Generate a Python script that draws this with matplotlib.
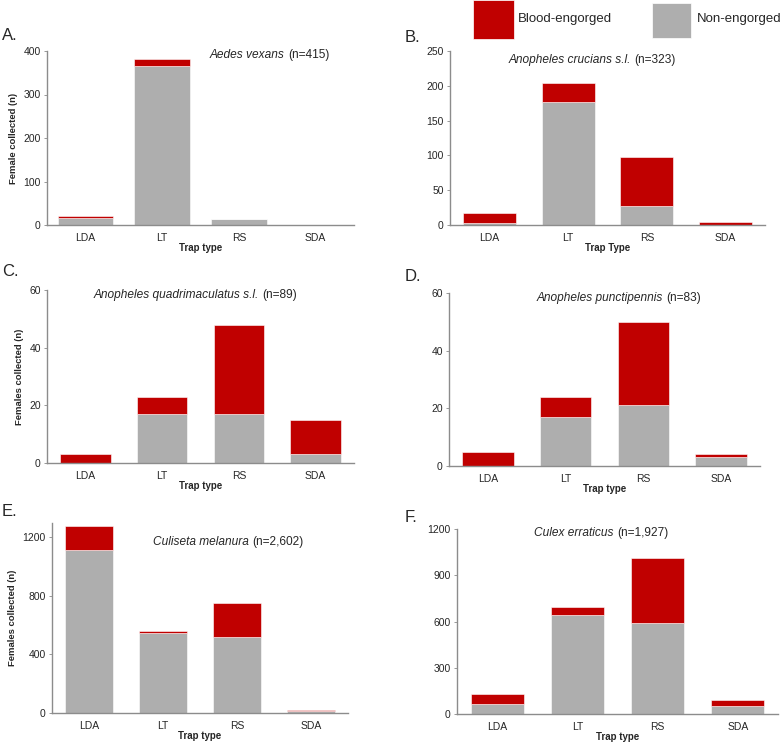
import matplotlib.pyplot as plt
from matplotlib.patches import Rectangle

plt.rcParams['font.family'] = ['Liberation Sans', 'DejaVu Sans']

traps = ['LDA', 'LT', 'RS', 'SDA']

# niezassane (szare) i zassane krwią (czerwone) samice
a_non = [17, 366, 13, 0]
a_blood = [4, 15, 0, 0]
b_non = [3, 177, 28, 0]
b_blood = [14, 27, 70, 4]
c_non = [0, 17, 17, 3]
c_blood = [3, 6, 31, 12]
d_non = [0, 17, 21, 3]
d_blood = [5, 7, 29, 1]
e_non = [1110, 545, 520, 17]
e_blood = [162, 17, 228, 3]
f_non = [68, 640, 588, 50]
f_blood = [61, 55, 422, 43]

red = '#C00000'
gray = '#AEAEAE'
txt = '#262626'

W, H = 783, 743
fig = plt.figure(figsize=(W / 100, H / 100), dpi=100)
renderer = fig.canvas.get_renderer()


def px_axes(left, top, right, bottom):
    return fig.add_axes([left / W, 1 - bottom / H, (right - left) / W, (bottom - top) / H])


panels = [
    # litera, gatunek, n, dane, ylim, ticki, ylabel, xlabel, pozycja osi, lewy brzeg tytułu, litera
    ('A.', 'Aedes vexans', '(n=415)', a_non, a_blood, 400, [0, 100, 200, 300, 400],
     'Female collected (n)', 'Trap type', (47, 51, 354, 225), (210, 55), (2, 35), 0.72),
    ('B.', 'Anopheles crucians s.l.', '(n=323)', b_non, b_blood, 250, [0, 50, 100, 150, 200, 250],
     None, 'Trap Type', (450, 51, 765, 225), (509, 60), (405, 37), 0.67),
    ('C.', 'Anopheles quadrimaculatus s.l.', '(n=89)', c_non, c_blood, 60, [0, 20, 40, 60],
     'Females collected (n)', 'Trap type', (47, 290, 354, 463), (94, 295), (2, 272), 0.66),
    ('D.', 'Anopheles punctipennis', '(n=83)', d_non, d_blood, 60, [0, 20, 40, 60],
     None, 'Trap type', (449, 293, 760, 466), (537, 298), (405, 277), 0.66),
    ('E.', 'Culiseta melanura', '(n=2,602)', e_non, e_blood, 1295, [0, 400, 800, 1200],
     'Females collected (n)', 'Trap type', (52, 523, 348, 713), (153, 542), (2, 512), 0.66),
    ('F.', 'Culex erraticus', '(n=1,927)', f_non, f_blood, 1200, [0, 300, 600, 900, 1200],
     None, 'Trap type', (457, 529, 778, 714), (534, 533), (405, 517), 0.66),
]

for letter, species, n, non, blood, ymax, yticks, ylab, xlab, box, tpos, lpos, bw in panels:
    ax = px_axes(*box)
    x = range(len(traps))
    ax.bar(x, non, width=bw, color=gray, edgecolor='white', linewidth=0.4)
    ax.bar(x, blood, width=bw, bottom=non, color=red, edgecolor='white', linewidth=0.4)
    ax.set_xlim(-0.5, 3.5)
    ax.set_ylim(0, ymax)
    ax.set_yticks(yticks)
    ax.set_xticks(list(x))
    ax.set_xticklabels(traps)
    ax.tick_params(axis='x', length=0, pad=6, labelsize=7.5, labelcolor=txt)
    ax.tick_params(axis='y', length=2.5, width=0.6, color='#888888', pad=2, labelsize=7.5, labelcolor=txt)
    for s in ['top', 'right']:
        ax.spines[s].set_visible(False)
    for s in ['left', 'bottom']:
        ax.spines[s].set_color('#8C8C8C')
        ax.spines[s].set_linewidth(1.0)
    if ylab:
        ax.set_ylabel(ylab, fontsize=6.8, fontweight='bold', color=txt, labelpad=4)
    ax.set_xlabel(xlab, fontsize=7, fontweight='bold', color=txt, labelpad=0)
    t1 = fig.text(tpos[0] / W, 1 - tpos[1] / H, species + ' ', style='italic', fontsize=8.6,
                  color=txt, ha='left', va='center')
    right = t1.get_window_extent(renderer).x1
    fig.text(right / W, 1 - tpos[1] / H, n, fontsize=8.6, color=txt, ha='left', va='center')
    fig.text(lpos[0] / W, 1 - lpos[1] / H, letter, fontsize=12, color=txt, ha='left', va='center')

# legenda na górze
fig.patches.append(Rectangle((473 / W, 1 - 39 / H), 41 / W, 39 / H, transform=fig.transFigure,
                             facecolor=red, edgecolor='white', linewidth=0.5))
fig.patches.append(Rectangle((652 / W, 1 - 38 / H), 39 / W, 35 / H, transform=fig.transFigure,
                             facecolor=gray, edgecolor='white', linewidth=0.5))
fig.text(518 / W, 1 - 19 / H, 'Blood-engorged', fontsize=9.5, color=txt, ha='left', va='center')
fig.text(697 / W, 1 - 19 / H, 'Non-engorged', fontsize=9.5, color=txt, ha='left', va='center')

fig.savefig('out.png', dpi=100)
